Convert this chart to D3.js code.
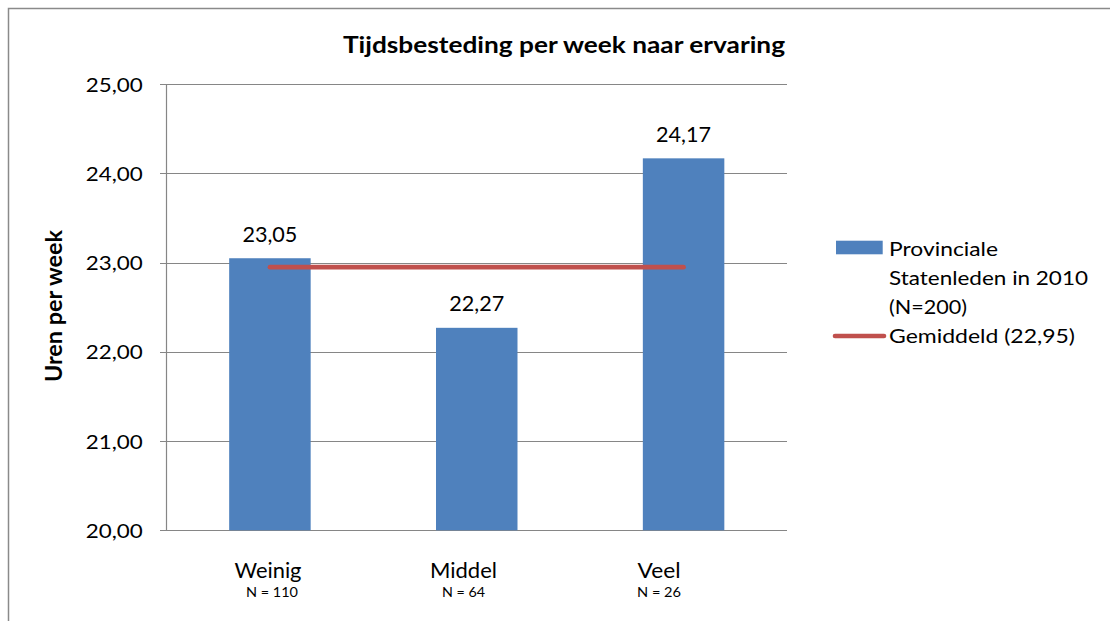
<!DOCTYPE html>
<html>
<head>
<meta charset="utf-8">
<script src="https://cdn.jsdelivr.net/npm/d3@7/dist/d3.min.js"></script>
<style>
  html, body { margin: 0; padding: 0; background: #fff; }
  svg { display: block; font-family: Lato, "Open Sans", sans-serif; }
</style>
</head>
<body>
<svg id="chart" width="1110" height="621"></svg>
<script>
// ---- data ----
const categories = ["Weinig", "Middel", "Veel"];
const sampleSizes = ["N = 110", "N = 64", "N = 26"];
const values = [23.05, 22.27, 24.17];
const average = [22.95, 22.95, 22.95];
const yTicks = [20, 21, 22, 23, 24, 25];
const titleText = "Tijdsbesteding per week naar ervaring";
const yAxisTitle = "Uren per week";
const legendBarLines = ["Provinciale", "Statenleden in  2010", "(N=200)"];
const legendLineLabel = "Gemiddeld (22,95)";

// ---- layout ----
const svg = d3.select("#chart");
const plot = { left: 166.5, right: 787, top: 84.3, bottom: 530.3 };
const barColor = "#4F81BD", lineColor = "#C0504D", gridColor = "#868686";

const nl = d3.formatLocale({ decimal: ",", thousands: ".", grouping: [3], currency: ["€", ""] });
const fmt = nl.format(".2f");

const x = d3.scaleBand().domain(categories).range([plot.left, plot.right])
  .paddingInner(0.606).paddingOuter(0.303);
const y = d3.scaleLinear().domain([20, 25]).range([plot.bottom, plot.top]);
const labelX = d3.scalePoint().domain(categories).range([268, 659]);

// outer border
svg.append("rect").attr("x", 8.5).attr("y", 8.5).attr("width", 1200).attr("height", 700)
  .attr("fill", "none").attr("stroke", "#8a8a8a").attr("stroke-width", 1.5);

// gridlines + tick marks
svg.append("g").selectAll("line").data(yTicks).join("line")
  .attr("x1", plot.left - 6.5).attr("x2", plot.right)
  .attr("y1", d => Math.round(y(d)) + 0.5).attr("y2", d => Math.round(y(d)) + 0.5)
  .attr("stroke", gridColor).attr("stroke-width", 1);

// y axis line
svg.append("line").attr("x1", plot.left).attr("x2", plot.left)
  .attr("y1", plot.top).attr("y2", plot.bottom)
  .attr("stroke", gridColor).attr("stroke-width", 1.2);

// tick labels
svg.append("g").selectAll("text").data(yTicks).join("text")
  .attr("x", 142.7).attr("y", d => y(d) + 7.5)
  .attr("text-anchor", "end").attr("font-size", 19.5).attr("fill", "#000")
  .attr("textLength", 57).attr("lengthAdjust", "spacingAndGlyphs")
  .text(d => fmt(d));

// bars
svg.append("g").selectAll("rect").data(values).join("rect")
  .attr("x", (d, i) => x(categories[i]))
  .attr("width", x.bandwidth())
  .attr("y", d => y(d))
  .attr("height", d => y(20) - y(d))
  .attr("fill", barColor);

// value labels
svg.append("g").selectAll("text").data(values).join("text")
  .attr("x", (d, i) => x(categories[i]) + x.bandwidth() / 2)
  .attr("y", d => y(d) - 16.5)
  .attr("text-anchor", "middle").attr("font-size", 21).attr("fill", "#000")
  .attr("textLength", 55).attr("lengthAdjust", "spacingAndGlyphs")
  .text(d => fmt(d));

// average line
const line = d3.line()
  .x((d, i) => x(categories[i]) + x.bandwidth() / 2)
  .y(d => y(d));
svg.append("path").datum(average).attr("d", line)
  .attr("fill", "none").attr("stroke", lineColor).attr("stroke-width", 4.6)
  .attr("stroke-linecap", "round");

// category labels
const catWidths = [67, 67, 43];
const nWidths = [52, 43, 44];
svg.append("g").selectAll("text").data(categories).join("text")
  .attr("x", d => labelX(d)).attr("y", 577.5)
  .attr("text-anchor", "middle").attr("font-size", 20.5).attr("fill", "#000")
  .attr("textLength", (d, i) => catWidths[i]).attr("lengthAdjust", "spacingAndGlyphs")
  .text(d => d);
svg.append("g").selectAll("text").data(sampleSizes).join("text")
  .attr("x", (d, i) => labelX(categories[i]) + (i === 0 ? 4 : 0)).attr("y", 597)
  .attr("text-anchor", "middle").attr("font-size", 14).attr("fill", "#000")
  .attr("textLength", (d, i) => nWidths[i]).attr("lengthAdjust", "spacingAndGlyphs")
  .text(d => d);

// title
svg.append("text").attr("x", 564).attr("y", 53.3)
  .attr("text-anchor", "middle").attr("font-size", 23).attr("font-weight", "bold")
  .attr("textLength", 442).attr("lengthAdjust", "spacingAndGlyphs")
  .text(titleText);

// y axis title
svg.append("text").attr("transform", "translate(62,306) rotate(-90)")
  .attr("text-anchor", "middle").attr("font-size", 23).attr("font-weight", "bold")
  .attr("textLength", 152).attr("lengthAdjust", "spacingAndGlyphs")
  .text(yAxisTitle);

// legend
const lg = svg.append("g");
lg.append("rect").attr("x", 836).attr("y", 240.7).attr("width", 46.7).attr("height", 13.6)
  .attr("fill", barColor);
const legendWidths = [109, 199, 78];
lg.selectAll("text.bar").data(legendBarLines).join("text").attr("class", "bar")
  .attr("x", 889).attr("y", (d, i) => 256 + i * 29)
  .attr("font-size", 18.5).attr("fill", "#000")
  .attr("textLength", (d, i) => legendWidths[i]).attr("lengthAdjust", "spacingAndGlyphs")
  .text(d => d);
lg.append("line").attr("x1", 835).attr("x2", 884).attr("y1", 336).attr("y2", 336)
  .attr("stroke", lineColor).attr("stroke-width", 4.6).attr("stroke-linecap", "round");
lg.append("text").attr("x", 889).attr("y", 343.3)
  .attr("font-size", 18.5).attr("fill", "#000")
  .attr("textLength", 186).attr("lengthAdjust", "spacingAndGlyphs")
  .text(legendLineLabel);
</script>
</body>
</html>
